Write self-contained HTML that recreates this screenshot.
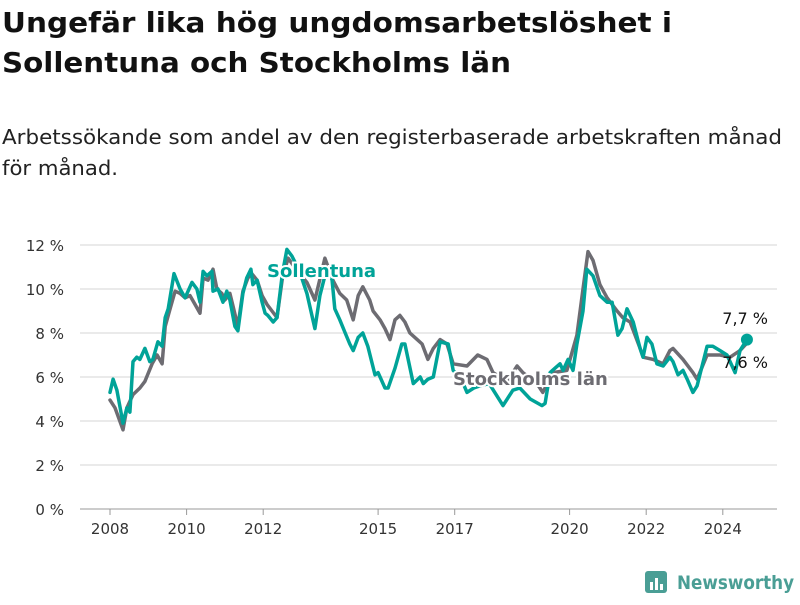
<!DOCTYPE html>
<html><head><meta charset="utf-8"><style>
body{margin:0;width:800px;height:600px;background:#fff;font-family:"Liberation Sans","DejaVu Sans",sans-serif;overflow:hidden}
svg text{font-family:"DejaVu Sans","Liberation Sans",sans-serif}
</style></head><body>
<svg id="chart" width="800" height="600" xmlns="http://www.w3.org/2000/svg">
<text x="2" y="32" font-size="28" font-weight="bold" fill="#111" textLength="670" lengthAdjust="spacingAndGlyphs">Ungefär lika hög ungdomsarbetslöshet i</text>
<text x="2" y="72" font-size="28" font-weight="bold" fill="#111" textLength="509" lengthAdjust="spacingAndGlyphs">Sollentuna och Stockholms län</text>
<text x="2" y="144" font-size="20" fill="#222" textLength="780" lengthAdjust="spacingAndGlyphs">Arbetssökande som andel av den registerbaserade arbetskraften månad</text>
<text x="2" y="175" font-size="20" fill="#222" textLength="116" lengthAdjust="spacingAndGlyphs">för månad.</text>
<g id="grid"></g><g id="xaxis"></g><g id="series"></g><g id="labels"></g>
<g>
<rect x="645" y="571" width="22" height="22" rx="3" fill="#4a9e95"/>
<rect x="650" y="582" width="3" height="8" fill="#fff"/><rect x="655" y="578" width="3" height="12" fill="#fff"/><rect x="660" y="584" width="3" height="6" fill="#fff"/>
<text x="677" y="589" font-size="19" font-weight="bold" fill="#4a9e95" textLength="117" lengthAdjust="spacingAndGlyphs">Newsworthy</text>
</g>
</svg>
<script>
const yTicks=[0,2,4,6,8,10,12];
const xTickYears=[2008,2010,2012,2015,2017,2020,2022,2024];
const sollentuna=[[2008.0,5.3],[2008.08,5.9],[2008.18,5.4],[2008.34,3.9],[2008.44,4.6],[2008.52,4.4],[2008.6,6.7],[2008.7,6.9],[2008.78,6.8],[2008.91,7.3],
[2009.04,6.7],[2009.12,6.8],[2009.25,7.6],[2009.36,7.4],[2009.44,8.7],[2009.52,9.1],[2009.67,10.7],[2009.83,10.0],[2009.96,9.6],[2010.14,10.3],
[2010.27,10.0],[2010.35,9.4],[2010.43,10.8],[2010.53,10.6],[2010.66,10.8],[2010.69,9.9],[2010.82,10.0],[2010.95,9.4],[2011.05,9.9],[2011.13,9.5],
[2011.26,8.3],[2011.34,8.1],[2011.47,9.8],[2011.57,10.5],[2011.68,10.9],[2011.73,10.2],[2011.84,10.4],[2011.97,9.4],[2012.05,8.9],[2012.12,8.8],
[2012.26,8.5],[2012.36,8.7],[2012.5,10.7],[2012.62,11.8],[2012.75,11.5],[2012.95,10.8],[2013.14,9.8],[2013.35,8.2],[2013.48,9.7],[2013.61,10.6],
[2013.7,10.9],[2013.8,10.4],[2013.87,9.1],[2014.0,8.6],[2014.14,8.0],[2014.26,7.5],[2014.35,7.2],[2014.48,7.8],[2014.6,8.0],[2014.73,7.4],
[2014.92,6.1],[2015.0,6.2],[2015.18,5.5],[2015.26,5.5],[2015.44,6.4],[2015.62,7.5],[2015.7,7.5],[2015.92,5.7],[2016.1,6.0],[2016.18,5.7],
[2016.3,5.9],[2016.44,6.0],[2016.62,7.6],[2016.83,7.5],[2016.96,6.3],[2017.15,6.0],[2017.32,5.3],[2017.5,5.5],[2017.66,5.6],[2017.9,5.7],
[2018.26,4.7],[2018.52,5.4],[2018.7,5.5],[2018.97,5.0],[2019.28,4.7],[2019.36,4.8],[2019.49,6.2],[2019.62,6.4],[2019.75,6.6],[2019.83,6.3],
[2019.96,6.8],[2020.09,6.3],[2020.19,7.5],[2020.35,9.0],[2020.45,10.9],[2020.61,10.6],[2020.79,9.7],[2020.98,9.4],[2021.11,9.4],[2021.26,7.9],
[2021.37,8.2],[2021.5,9.1],[2021.66,8.5],[2021.84,7.3],[2021.92,6.9],[2022.02,7.8],[2022.15,7.5],[2022.28,6.6],[2022.44,6.5],[2022.62,6.9],
[2022.7,6.7],[2022.83,6.1],[2022.96,6.3],[2023.07,5.9],[2023.22,5.3],[2023.33,5.6],[2023.59,7.4],[2023.74,7.4],[2023.93,7.2],[2024.11,7.0],
[2024.32,6.2],[2024.45,7.2],[2024.63,7.7]];
const stockholm=[[2008.0,4.95],[2008.13,4.6],[2008.34,3.6],[2008.44,4.6],[2008.6,5.2],[2008.78,5.5],[2008.91,5.8],[2009.1,6.6],[2009.23,7.0],[2009.36,6.6],
[2009.44,8.3],[2009.57,9.1],[2009.7,9.9],[2009.83,9.8],[2009.96,9.6],[2010.09,9.7],[2010.22,9.3],[2010.35,8.9],[2010.43,10.5],[2010.56,10.4],
[2010.69,10.9],[2010.79,10.0],[2010.92,9.8],[2011.0,9.5],[2011.13,9.8],[2011.2,9.3],[2011.34,8.3],[2011.47,9.9],[2011.6,10.5],[2011.7,10.7],
[2011.84,10.4],[2011.97,9.7],[2012.1,9.3],[2012.23,9.0],[2012.36,8.7],[2012.5,10.5],[2012.65,11.4],[2012.9,10.8],[2013.14,10.3],[2013.35,9.5],
[2013.61,11.4],[2013.82,10.4],[2014.0,9.8],[2014.18,9.5],[2014.35,8.6],[2014.48,9.7],[2014.6,10.1],[2014.78,9.5],[2014.87,9.0],[2015.05,8.6],
[2015.18,8.2],[2015.31,7.7],[2015.44,8.6],[2015.57,8.8],[2015.7,8.5],[2015.83,8.0],[2016.02,7.7],[2016.15,7.5],[2016.3,6.8],[2016.44,7.3],
[2016.62,7.7],[2016.8,7.5],[2016.96,6.6],[2017.32,6.5],[2017.6,7.0],[2017.84,6.8],[2018.0,6.2],[2018.37,5.8],[2018.63,6.5],[2018.78,6.2],
[2019.15,5.7],[2019.3,5.3],[2019.57,6.2],[2019.93,6.3],[2020.19,7.9],[2020.35,10.0],[2020.48,11.7],[2020.61,11.3],[2020.79,10.2],[2020.98,9.6],
[2021.24,9.0],[2021.39,8.7],[2021.58,8.5],[2021.84,7.3],[2021.92,6.9],[2022.18,6.8],[2022.44,6.6],[2022.62,7.2],[2022.7,7.3],[2022.96,6.8],
[2023.22,6.2],[2023.33,5.9],[2023.59,7.0],[2023.93,7.0],[2024.19,6.9],[2024.45,7.2],[2024.66,7.6]];
const NS="http://www.w3.org/2000/svg";
const X=yr=>110+(yr-2008)*38.3;
const Y=v=>509-v*22;
function mk(tag,attrs,parent){const e=document.createElementNS(NS,tag);for(const k in attrs)e.setAttribute(k,attrs[k]);parent.appendChild(e);return e;}
const grid=document.getElementById('grid');
yTicks.forEach(t=>{
  const l=mk('line',{x1:80,x2:777,y1:Y(t),y2:Y(t),stroke:t===0?'#bbb':'#ddd','stroke-width':t===0?1.5:1.2},grid);
  
  
  const tx=mk('text',{x:64,y:Y(t)+6,'font-size':15,'text-anchor':'end',fill:'#333'},grid);
  tx.textContent=t+' %';
  
  
});
const xa=document.getElementById('xaxis');
xTickYears.forEach(yr=>{
  const l=mk('line',{x1:X(yr),x2:X(yr),y1:509,y2:515,stroke:'#999'},xa);
  
  
  const tx=mk('text',{x:X(yr),y:534,'font-size':15,'text-anchor':'middle',fill:'#333'},xa);
  tx.textContent=yr;
  
  
});
const sg=document.getElementById('series');
function line(pts,color,name){
  const d=pts.map((p,i)=>(i?'L':'M')+X(p[0]).toFixed(1)+','+Y(p[1]).toFixed(1)).join('');
  const p=mk('path',{d:d,fill:'none',stroke:color,'stroke-width':3.5,'stroke-linejoin':'round','stroke-linecap':'round'},sg);
  
  
}
line(stockholm,'#6d6c72','stockholms-lan-line');
line(sollentuna,'#00a398','sollentuna-line');
const lg=document.getElementById('labels');
const last=sollentuna[sollentuna.length-1];
const dot=mk('circle',{cx:X(last[0]),cy:Y(last[1]),r:6,fill:'#00a398'},lg);


function lab(txt,x,y,opts,name){const t=mk('text',Object.assign({x:x,y:y},opts),lg);t.textContent=txt;
  
  }
lab('Sollentuna',267,277,{'font-size':18,'font-weight':'bold',fill:'#00a398',stroke:'#fff','stroke-width':4,'paint-order':'stroke'},'sollentuna-label');
lab('Stockholms län',453,385,{'font-size':18,'font-weight':'bold',fill:'#6d6c72',stroke:'#fff','stroke-width':4,'paint-order':'stroke'},'stockholms-label');
lab('7,7 %',768,324,{'font-size':16,'text-anchor':'end',fill:'#111'},'sollentuna-value-label');
lab('7,6 %',768,368,{'font-size':16,'text-anchor':'end',fill:'#111'},'stockholms-value-label');
</script>
</body></html>
